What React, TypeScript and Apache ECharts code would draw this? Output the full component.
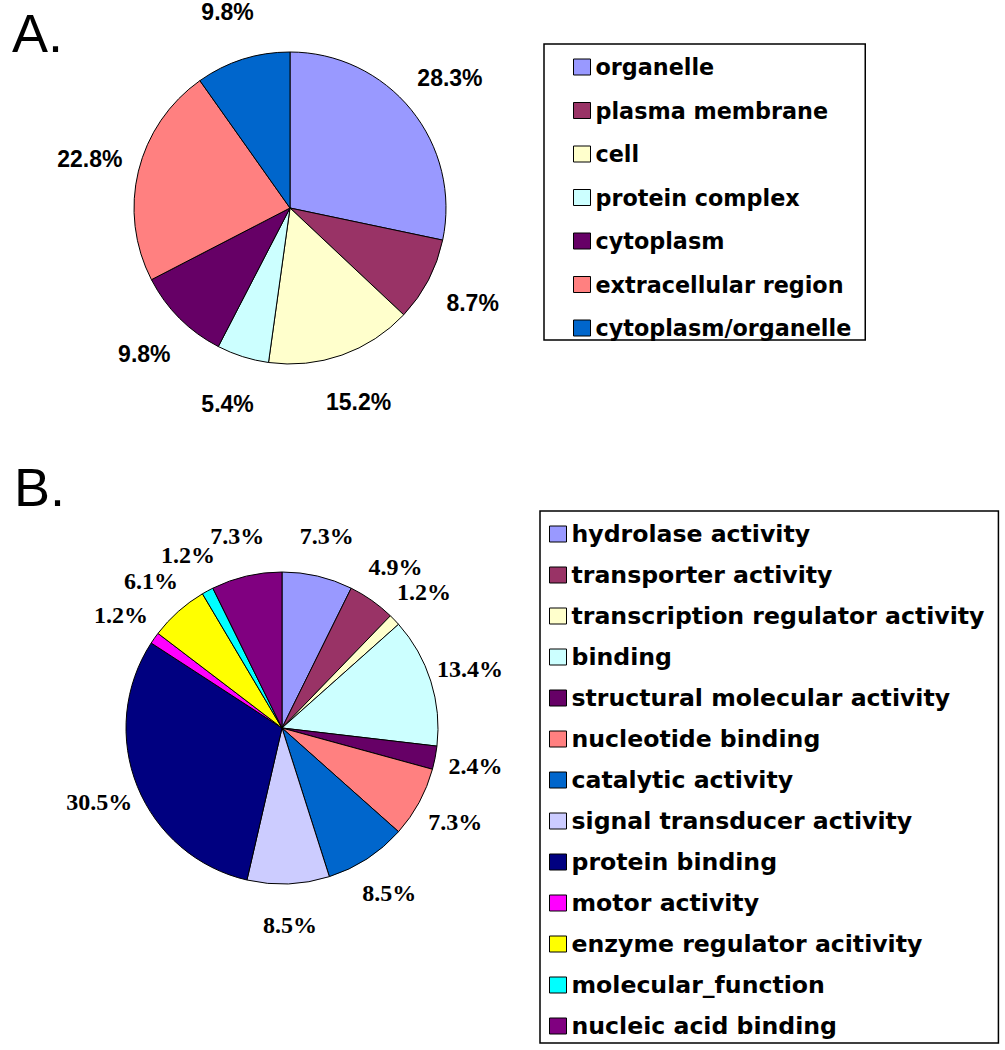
import React, { useEffect, useRef } from "react";
import * as echarts from "echarts";

// Panel A: cellular component
const aNames = [
  "organelle",
  "plasma membrane",
  "cell",
  "protein complex",
  "cytoplasm",
  "extracellular region",
  "cytoplasm/organelle",
];
const aValues = [28.3, 8.7, 15.2, 5.4, 9.8, 22.8, 9.8];
const aColors = ["#9999FF", "#993366", "#FFFFCC", "#CCFFFF", "#660066", "#FF8080", "#0066CC"];

// Panel B: molecular function
const bNames = [
  "hydrolase activity",
  "transporter activity",
  "transcription regulator activity",
  "binding",
  "structural molecular activity",
  "nucleotide binding",
  "catalytic activity",
  "signal transducer activity",
  "protein binding",
  "motor activity",
  "enzyme regulator acitivity",
  "molecular_function",
  "nucleic acid binding",
];
const bValues = [7.3, 4.9, 1.2, 13.4, 2.4, 7.3, 8.5, 8.5, 30.5, 1.2, 6.1, 1.2, 7.3];
const bColors = [
  "#9999FF",
  "#993366",
  "#FFFFCC",
  "#CCFFFF",
  "#660066",
  "#FF8080",
  "#0066CC",
  "#CCCCFF",
  "#000080",
  "#FF00FF",
  "#FFFF00",
  "#00FFFF",
  "#800080",
];

const panelLabels = ["A.", "B."];

function pieData(names: string[], values: number[], colors: string[]) {
  return names.map((n, i) => ({ name: n, value: values[i], itemStyle: { color: colors[i] } }));
}
function labelData(names: string[], values: number[]) {
  return names.map((n, i) => ({ name: n, value: values[i] }));
}

export default function App() {
  const ref = useRef<HTMLDivElement>(null);
  useEffect(() => {
    if (!ref.current) return;
    const chart = echarts.init(ref.current, undefined, { renderer: "svg" });
    const slice = (center: number[], r: number, data: any[]) => ({
      type: "pie",
      center,
      radius: r,
      startAngle: 90,
      clockwise: true,
      silent: true,
      label: { show: false },
      labelLine: { show: false },
      emphasis: { disabled: true },
      itemStyle: { borderColor: "#000", borderWidth: 1 },
      data,
    });
    const labels = (center: number[], r: number[], data: any[], font: any) => ({
      type: "pie",
      center,
      radius: r,
      startAngle: 90,
      clockwise: true,
      silent: true,
      avoidLabelOverlap: false,
      emphasis: { disabled: true },
      itemStyle: { color: "rgba(0,0,0,0)", borderWidth: 0 },
      label: { show: true, position: "inside", formatter: "{c}%", color: "#000", ...font },
      labelLayout: { hideOverlap: false },
      labelLine: { show: false },
      data,
    });
    chart.setOption({
      animation: false,
      backgroundColor: "#fff",
      legend: [
        {
          data: aNames,
          orient: "vertical",
          left: 544,
          top: 44,
          icon: "rect",
          itemWidth: 17,
          itemHeight: 16,
          itemGap: 21.5,
          padding: [12, 14, 1, 29],
          backgroundColor: "#fff",
          borderColor: "#000",
          borderWidth: 1.5,
          selectedMode: false,
          itemStyle: { borderColor: "#000", borderWidth: 1 },
          textStyle: {
            fontFamily: "DejaVu Sans",
            fontWeight: "bold",
            fontSize: 22.3,
            lineHeight: 22,
            color: "#000",
          },
        },
        {
          data: bNames,
          orient: "vertical",
          left: 540,
          top: 511,
          icon: "rect",
          itemWidth: 17,
          itemHeight: 16,
          itemGap: 17,
          padding: [11, 14, 5, 9],
          backgroundColor: "#fff",
          borderColor: "#000",
          borderWidth: 1.5,
          selectedMode: false,
          itemStyle: { borderColor: "#000", borderWidth: 1 },
          textStyle: {
            fontFamily: "DejaVu Sans",
            fontWeight: "bold",
            fontSize: 23.6,
            lineHeight: 23,
            color: "#000",
          },
        },
      ],
      graphic: [
        {
          type: "text",
          left: 12,
          top: 6,
          style: {
            text: panelLabels[0],
            font: "54px 'Liberation Sans', Arial, sans-serif",
            fill: "#000",
          },
        },
        {
          type: "text",
          left: 14,
          top: 460,
          style: {
            text: panelLabels[1],
            font: "54px 'Liberation Sans', Arial, sans-serif",
            fill: "#000",
          },
        },
      ],
      series: [
        slice([290, 208], 156, pieData(aNames, aValues, aColors)),
        slice([282, 728], 156, pieData(bNames, bValues, bColors)),
        labels([290, 208], [188, 218], labelData(aNames, aValues), {
          fontFamily: "Liberation Sans",
          fontWeight: "bold",
          fontSize: 23,
          lineHeight: 18,
        }),
        labels([282, 728], [179, 209], labelData(bNames, bValues), {
          fontFamily: "Liberation Serif",
          fontWeight: "bold",
          fontSize: 24,
          lineHeight: 18,
        }),
      ],
    });
    return () => chart.dispose();
  }, []);
  return (
    <div
      ref={ref}
      style={{ position: "absolute", left: 0, top: 0, width: 1005, height: 1050 }}
    />
  );
}
